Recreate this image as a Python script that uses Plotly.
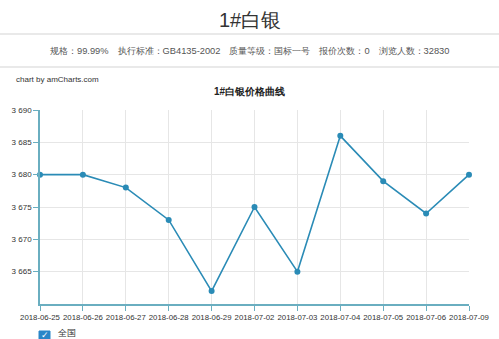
import plotly.graph_objects as go

dates = ["2018-06-25", "2018-06-26", "2018-06-27", "2018-06-28", "2018-06-29",
         "2018-07-02", "2018-07-03", "2018-07-04", "2018-07-05", "2018-07-06", "2018-07-09"]
prices = [3680, 3680, 3678, 3673, 3662, 3675, 3665, 3686, 3679, 3674, 3680]
y_ticks = [3665, 3670, 3675, 3680, 3685, 3690]
y_labels = ["3 665", "3 670", "3 675", "3 680", "3 685", "3 690"]

W, H = 499, 339
def py(p):
    return 1 - p / H

LINE = "#2a8bb6"
AXIS = "#6aaec0"
FONT = "Liberation Sans, Arial, sans-serif"

fig = go.Figure()
fig.add_trace(go.Scatter(
    x=list(range(len(dates))), y=prices, mode="lines+markers",
    line=dict(color=LINE, width=1.6),
    marker=dict(color=LINE, size=6),
    cliponaxis=False, showlegend=False, hoverinfo="x+y",
))

fig.update_layout(
    width=W, height=H, margin=dict(l=0, r=0, t=0, b=0),
    paper_bgcolor="white", plot_bgcolor="white",
    font=dict(family=FONT, color="#333", size=9),
    xaxis=dict(domain=[40 / W, 469 / W], range=[0, len(dates) - 1], automargin=False,
               tickvals=list(range(len(dates))), ticktext=dates, tickangle=0,
               showgrid=True, gridcolor="#e6e6e6", gridwidth=1,
               showline=True, linecolor=AXIS, linewidth=1.5,
               ticks="outside", ticklen=5, tickcolor=AXIS,
               tickfont=dict(size=7.8, color="#333"), zeroline=False),
    yaxis=dict(domain=[py(304), py(110)], range=[3660, 3690], automargin=False,
               tickvals=y_ticks, ticktext=y_labels,
               showgrid=True, gridcolor="#e6e6e6", gridwidth=1,
               showline=True, linecolor=AXIS, linewidth=1.5,
               ticks="outside", ticklen=5, tickcolor=AXIS,
               tickfont=dict(size=8, color="#333"), zeroline=False),
)

shapes = [
    dict(type="line", xref="paper", yref="paper", x0=0, x1=1, y0=py(34), y1=py(34),
         line=dict(color="#e2e2e2", width=1.5)),
    dict(type="line", xref="paper", yref="paper", x0=0, x1=1, y0=py(67), y1=py(67),
         line=dict(color="#e2e2e2", width=1.5)),
    dict(type="rect", xref="paper", yref="paper", x0=39 / W, x1=50 / W, y0=py(342), y1=py(331),
         fillcolor="#2b86c8", line=dict(color="#2b86c8", width=1)),
]
fig.update_layout(shapes=shapes)

ann = [
    dict(text="1#白银", x=250 / W, y=py(20), font=dict(size=20, color="#333")),
    dict(text="规格：99.99%　执行标准：GB4135-2002　质量等级：国标一号　报价次数：0　浏览人数：32830",
         x=250 / W, y=py(51), font=dict(size=9.3, color="#555")),
    dict(text="chart by amCharts.com", x=14 / W, y=py(79), xanchor="left",
         font=dict(size=8, color="#333")),
    dict(text="<b>1#白银价格曲线</b>", x=250 / W, y=py(91), font=dict(size=10, color="#222")),
    dict(text="✓", x=44.5 / W, y=py(335), font=dict(size=9, color="white")),
    dict(text="全国", x=56 / W, y=py(333), xanchor="left", font=dict(size=9, color="#333")),
]
for a in ann:
    a.setdefault("xanchor", "center")
    a.update(xref="paper", yref="paper", yanchor="middle", showarrow=False)
fig.update_layout(annotations=ann)

fig.write_html("out.html")
